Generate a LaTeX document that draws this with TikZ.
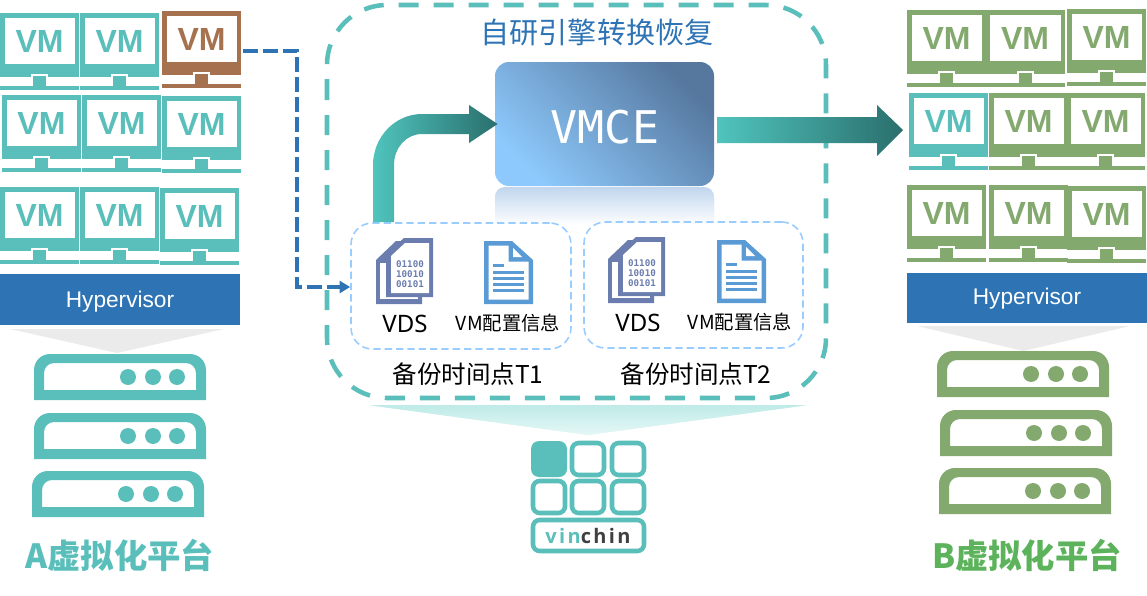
\documentclass[tikz,border=0pt]{standalone}
\usepackage{fontspec}
\usetikzlibrary{arrows.meta}
\setmainfont{Noto Sans}
\newfontfamily\cjk{Noto Sans CJK SC}
\newfontfamily\arialf{Liberation Sans}
\newfontfamily\monof{DejaVu Sans Mono}
\newfontfamily\logof[LetterSpace=12]{Open Sans}
\definecolor{teal1}{HTML}{5ABFBB}
\definecolor{green1}{HTML}{84A96F}
\definecolor{green2}{HTML}{5CB35C}
\definecolor{brown1}{HTML}{A5714F}
\definecolor{blue1}{HTML}{2E74B5}
\definecolor{bindoc}{HTML}{6A7DAE}
\definecolor{cfgdoc}{HTML}{5B9BD5}
\definecolor{lblue}{HTML}{99CCFF}
\definecolor{arrowa}{HTML}{50C4BD}
\definecolor{arrowb}{HTML}{2A6F6D}
\definecolor{vmcea}{HTML}{8DC9FC}
\definecolor{vmceb}{HTML}{56789F}
\definecolor{refl}{HTML}{C0D6EE}
\definecolor{funnela}{HTML}{BFEBE8}
\definecolor{funnelb}{HTML}{E4F7F6}
\definecolor{greyfan}{HTML}{EBEBEB}
\definecolor{logodark}{HTML}{404040}
\newcommand{\vmicon}[4]{% name, x, y, colour
  \begin{scope}[shift={(#2,#3)}]
    \fill[#4] (0,0) rectangle (79,64);
    \fill[white] (4.7,4.7) rectangle (75,51);
    \fill[white] (31,60.5) rectangle (48,64);
    \fill[#4] (33,63) rectangle (46,73);
    \fill[#4] (0,72.5) rectangle (79,77);
    \node[vmtext,text=#4] (#1) at (39.5,28.5) {VM};
  \end{scope}}
\newcommand{\serverbox}[4]{% name, x, y, colour
  \begin{scope}[shift={(#2,#3)}]
    \fill[#4,even odd rule] (0,46) -- (0,16) arc[start angle=180,end angle=270,radius=16] -- (156,0) arc[start angle=270,end angle=360,radius=16] -- (172,46) -- cycle
      (10,36) -- (10,19) arc[start angle=180,end angle=270,radius=10] -- (152,9) arc[start angle=270,end angle=360,radius=10] -- (162,36) -- cycle;
    \coordinate (#1) at (86,23);
    \fill[#4] (94,23) circle (8) (119,23) circle (8) (143,23) circle (8);
  \end{scope}}
\newcommand{\bindocicon}[3]{% name,x,y
  \begin{scope}[shift={(#2,#3)}]
    \fill[bindoc] (0,23) -- (20,4) -- (46,4) -- (46,67) -- (0,67) -- cycle;
    \fill[white] (4,26) rectangle (42,62);
    \fill[bindoc] (10,17) -- (28,1) -- (57,1) -- (57,60) -- (10,60) -- cycle;
    \fill[white] (15,19) -- (29,6) -- (53,6) -- (53,56) -- (15,56) -- cycle;
    \node[binfont] (#1) at (34,37) {01100\\10010\\00101};
  \end{scope}}
\newcommand{\cfgdocicon}[3]{% name,x,y
  \begin{scope}[shift={(#2,#3)}]
    \fill[cfgdoc] (0,0) -- (28,0) -- (49,19) -- (49,63) -- (0,63) -- cycle;
    \fill[white] (4.5,4.5) -- (24.5,4.5) -- (24.5,20.5) -- (44.5,20.5) -- (44.5,58.5) -- (4.5,58.5) -- cycle;
    \fill[white] (29,7) -- (38,16) -- (29,16) -- cycle;
    \fill[cfgdoc] (9,22.5) rectangle (20,25.5);
    \foreach \yy in {29.5,35.5,41.5,47.5} \fill[cfgdoc] (9,\yy) rectangle (39.5,\yy+3);
    \coordinate (#1) at (24,30);
  \end{scope}}
\tikzset{
  vmtext/.style={font=\arialf\bfseries\fontsize{24}{24}\selectfont,inner sep=0},
  hyper/.style={font=\arialf\fontsize{17}{18}\selectfont,text=white,inner sep=0},
  label1/.style={font=\fontsize{18}{18}\selectfont,text=black,inner sep=0},
  label2/.style={font=\cjk\fontsize{14.5}{15}\selectfont,text=black,inner sep=0},
  label3/.style={font=\cjk\fontsize{18.4}{19}\selectfont,text=black,inner sep=0},
  plat/.style={font=\cjk\bfseries\fontsize{25}{26}\selectfont,inner sep=0},
  binfont/.style={font=\monof\bfseries\fontsize{6.9}{7.5}\selectfont,text=bindoc,align=center,inner sep=0},
  timebox/.style={draw=lblue,line width=1.2pt,dash pattern=on 5.5pt off 3pt,rounded corners=16pt,inner sep=0},
  cell/.style={draw=teal1,line width=3.4pt,rounded corners=5pt},
  bigarrow/.style={left color=arrowa,right color=arrowb},
}
\begin{document}
\begin{tikzpicture}[x=0.75pt,y=-0.75pt]
\useasboundingbox (0,0) rectangle (1147,596);
% VMs left
\vmicon{la}{0}{13}{teal1}\vmicon{lb}{80}{13}{teal1}\vmicon{lc}{162}{11}{brown1}
\vmicon{ld}{2}{95}{teal1}\vmicon{le}{82}{95}{teal1}\vmicon{lf}{162}{96}{teal1}
\vmicon{lg}{0}{187}{teal1}\vmicon{lh}{80}{187}{teal1}\vmicon{li}{160}{188}{teal1}
% VMs right
\vmicon{ra}{907}{10}{green1}\vmicon{rb}{985.5}{10}{green1}\vmicon{rc}{1067}{9}{green1}
\vmicon{rd}{909}{93}{teal1}\vmicon{re}{989}{93}{green1}\vmicon{rf}{1066}{93}{green1}
\vmicon{rg}{907}{185}{green1}\vmicon{rh}{989}{185}{green1}\vmicon{ri}{1067}{186}{green1}
% Hypervisors
\fill[blue1] (0,274) rectangle (240,325);
\node[hyper] (hl) at (120,302) {Hypervisor};
\fill[blue1] (907,273) rectangle (1147,323);
\node[hyper] (hr) at (1027,299) {Hypervisor};
% grey funnels
\fill[greyfan] (10,329) -- (224,329) -- (117,353) -- cycle;
\fill[greyfan] (917,326) -- (1130,326) -- (1023.5,351) -- cycle;
% servers
\serverbox{sa}{34}{354}{teal1}
\serverbox{sb}{34}{413}{teal1}
\serverbox{sc}{32}{471}{teal1}
\serverbox{sd}{937}{351}{green1}
\serverbox{se}{940}{410}{green1}
\serverbox{sf}{939}{468}{green1}
\node[plat,text=teal1] (pa) at (120,555) {A虚拟化平台};
\node[plat,text=green2] (pb) at (1027,555) {B虚拟化平台};
% funnel under the frame, fading downward
\begin{scope}
  \clip (368,405) -- (808,405) -- (588,435) -- cycle;
  \foreach \i in {0,...,29} {
    \pgfmathsetmacro{\pct}{100*(1-\i/29)}
    \fill[funnela!\pct!funnelb] (360,405+\i) rectangle (816,406.5+\i);
  }
\end{scope}
% VMCE reflection, fading downward
\begin{scope}
  \clip (495,226) -- (495,197) arc[start angle=180,end angle=270,radius=10] -- (704,187) arc[start angle=270,end angle=360,radius=10] -- (714,226) -- cycle;
  \foreach \i in {0,...,38} {
    \pgfmathsetmacro{\pct}{100*(1-\i/38)}
    \fill[refl!\pct!white] (490,187+\i) rectangle (720,188.5+\i);
  }
\end{scope}
\path[bottom color=vmcea,top color=vmceb,shading angle=-45,rounded corners=10.5pt] (495,186) rectangle (714,62);
% main dashed frame
\draw[teal1,line width=3.4pt,dash pattern=on 15pt off 11.25pt,rounded corners=45pt] (327,80) -- (327,398) -- (826,398) -- (826,5) -- (327,5) -- (327,80);
\node[font=\cjk\fontsize{21.8}{22}\selectfont,text=blue1,inner sep=0] (title) at (597,32) {自研引擎转换恢复};
\node[font=\monof\fontsize{33.75}{34}\selectfont,text=white,inner sep=0] (vmce) at (605,127) {VMCE};
% time-point boxes
\node[timebox,minimum width=165pt,minimum height=94.5pt] (tone) at (461,286) {};
\node[timebox,minimum width=164.25pt,minimum height=94.5pt] (ttwo) at (693.5,285) {};
\bindocicon{bina}{376}{237}
\cfgdocicon{cfga}{484}{241}
\bindocicon{binb}{608}{236}
\cfgdocicon{cfgb}{717}{240}
\node[label1] (vdsa) at (405,324) {VDS};
\node[label2] (cfgla) at (508,323) {VM配置信息};
\node[label1] (vdsb) at (638,323) {VDS};
\node[label2] (cfglb) at (740,322) {VM配置信息};
\node[label3] (ta) at (468,374) {备份时间点T1};
\node[label3] (tb) at (696,374) {备份时间点T2};
% thick arrows
\path[bigarrow] (373,222) -- (373,165) .. controls (373,137) and (395,114) .. (422,114) -- (469,114) -- (469,105) -- (497.5,124) -- (469,143) -- (469,134) -- (422,134) .. controls (406,134) and (394,148) .. (394,165) -- (394,222) -- cycle;
\path[bigarrow] (717,117) -- (877,117) -- (877,105) -- (903,130) -- (877,156) -- (877,143) -- (717,143) -- cycle;
% blue dashed connector
\coordinate (bstart) at (243,51);
\coordinate (bcorner) at (297,287);
\draw[blue1,line width=3.2pt,dash pattern=on 11pt off 4pt,-{Triangle[length=8pt,width=9pt]}] (bstart) -- (bstart -| bcorner) -- (bcorner) -- (bcorner -| tone.west);
% logo
\fill[teal1,rounded corners=6pt] (531,441) rectangle (567,477);
\draw[cell] (572,443) rectangle (604,475);
\draw[cell] (612,443) rectangle (644,475);
\draw[cell] (533,481) rectangle (565,513);
\draw[cell] (572,481) rectangle (604,513);
\draw[cell] (612,481) rectangle (644,513);
\draw[cell] (533,520) rectangle (644,551);
\node[font=\logof\bfseries\fontsize{15}{16}\selectfont,inner sep=0] (logo) at (588,536) {\textcolor{teal1}{vin}\textcolor{logodark}{chin}};
\end{tikzpicture}
\end{document}
